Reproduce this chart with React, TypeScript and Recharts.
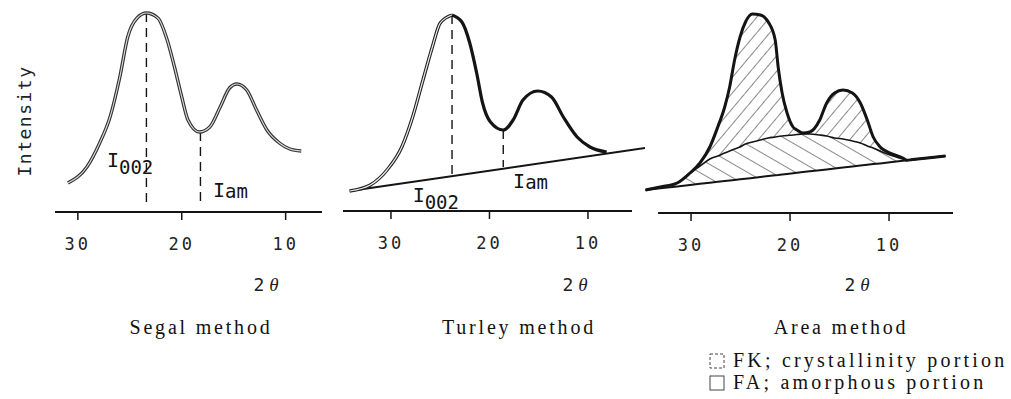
import React from 'react';
import { ComposedChart, Line, Area, XAxis, YAxis, ReferenceLine, ReferenceDot } from 'recharts';

// ---------- shared ----------
const tickValues = [30, 20, 10];
const titles = ['Segal method', 'Turley method', 'Area method'];
const legendItems = ['FK; crystallinity portion', 'FA; amorphous portion'];

// ---------- Segal panel ----------
const segalTheta = [30.96, 29.13, 27.9, 26.9, 25.96, 25.2, 24.3, 23.4, 22.3, 21.4, 20.7, 20.0, 19.4, 18.3, 17.3, 16.3, 15.4, 14.7, 13.75, 12.8, 11.8, 10.6, 9.6, 8.5];
const segalIntensity = [29, 45, 69, 95, 135, 175, 194, 199, 194, 172, 145, 115, 92, 80, 85, 105, 124, 128, 122, 102, 82, 69, 63, 61];
const segalDomain = [6.5, 32.2];
const segalAxisRange = [32.2, 6.5];
const segalMarkTheta = [23.4, 18.2];
const segalMarkTop = [199, 80];
const segalMarkBottom = [8, 8];

// ---------- Turley panel ----------
const turleyTheta = [34.2, 32.1, 30.4, 28.9, 27.8, 26.75, 25.8, 25.0, 23.8, 22.8, 22.0, 21.3, 20.7, 19.9, 18.6, 17.6, 16.6, 15.1, 13.7, 12.5, 11.1, 9.8, 8.1];
const turleyIntensity = [20, 26, 41, 64, 94, 131, 164, 188, 196, 189, 168, 138, 108, 89, 81, 91, 111, 120, 114, 94, 74, 64, 59];
const turleyBaseTheta = [34.2, 4.2];
const turleyBaseIntensity = [20, 63];
const turleyDomain = [4.21, 34.87];
const turleyAxisRange = [34.87, 5.53];
const turleyMarkTheta = [23.8, 18.6];
const turleyMarkTop = [196, 81];
const turleyMarkBottom = [34, 44];

// ---------- Area panel ----------
const areaTheta = [34.6, 33.1, 31.4, 30.1, 29.1, 28.1, 27.3, 26.6, 26.1, 25.6, 25.05, 24.5, 23.8, 23.0, 22.2, 21.5, 21.2, 20.8, 20.3, 19.7, 19.3, 18.7, 18.0, 17.0, 16.3, 15.5, 14.65, 13.7, 12.9, 12.2, 11.6, 10.9, 9.9, 8.6, 8.2, 7.6, 5.9, 4.3];
const areaTotal = [23, 26, 30, 40, 50, 66, 86, 106, 126, 153, 176, 191, 199, 198, 191, 173, 146, 120, 100, 86, 83, 80, 81, 93, 110, 120, 123, 120, 110, 93, 76, 66, 60, 55, 52.7, 53.4, 55.3, 57];
const areaAmorph = [23, 26, 30, 40, 47, 54, 57, 60, 62, 64, 66, 69, 71, 73, 75, 76, 76.5, 77, 77.5, 78, 78.5, 79, 79, 78, 77, 75, 74, 72, 70, 67, 65, 62, 58, 54, 52.7, 53.4, 55.3, 57];
const areaBase = [23, 24.7, 26.6, 28.0, 29.2, 30.3, 31.2, 32.0, 32.5, 33.1, 33.7, 34.3, 35.1, 36.0, 36.9, 37.7, 38.0, 38.5, 39.1, 39.8, 40.2, 40.9, 41.7, 42.8, 43.6, 44.5, 45.4, 46.5, 47.4, 48.2, 48.9, 49.6, 50.8, 52.2, 52.7, 53.4, 55.3, 57];
const areaDomain = [3.54, 34.65];
const areaAxisRange = [33.33, 3.54];

// ---------- data tables ----------
const segalData = segalTheta.map((t, i) => ({ t, v: segalIntensity[i] }));
const turleyData = turleyTheta.map((t, i) => ({ t, v: turleyIntensity[i] }));
const turleyBase = turleyBaseTheta.map((t, i) => ({ t, v: turleyBaseIntensity[i] }));
const areaData = areaTheta.map((t, i) => ({
  t,
  total: areaTotal[i],
  amorph: areaAmorph[i],
  base: areaBase[i],
  kRange: [areaAmorph[i], areaTotal[i]],
  aRange: [areaBase[i], areaAmorph[i]],
}));

const MONO = "'DejaVu Sans Mono', monospace";
const SERIF = "'Liberation Serif', 'DejaVu Serif', serif";
const INK = '#141414';

const renderTick = (props: any) => (
  <text x={props.x} y={props.y + 30} textAnchor="middle" style={{ fontFamily: MONO, fontSize: 17, letterSpacing: 3 }} fill="#222">
    {props.payload.value}
  </text>
);

const makeLabel = (main: string, sub: string, subDy: number) => (p: any) => (
  <text x={p.cx} y={p.cy} style={{ fontFamily: MONO, fontSize: 20 }} fill={INK}>
    <tspan>{main}</tspan>
    <tspan dy={subDy} style={{ fontSize: 19 }}>{sub}</tspan>
  </text>
);

function commonAxes(domain: number[], ymax: number) {
  return [
    <XAxis
      key="x"
      xAxisId={0}
      dataKey="t"
      type="number"
      domain={domain}
      reversed
      allowDataOverflow
      ticks={tickValues}
      axisLine={false}
      tickLine={{ stroke: INK, strokeWidth: 1.5 }}
      tickSize={8}
      tickMargin={0}
      height={40}
      tick={renderTick}
      interval={0}
    />,
    <YAxis key="y" yAxisId={0} type="number" domain={[0, ymax]} allowDataOverflow hide />,
  ];
}

const markLines = (theta: number[], top: number[], bottom: number[]) =>
  theta.map((t, i) => (
    <ReferenceLine
      key={'m' + i}
      segment={[{ x: t, y: top[i] }, { x: t, y: bottom[i] }]}
      stroke={INK}
      strokeWidth={1.4}
      strokeDasharray="9 6"
      ifOverflow="visible"
    />
  ));

const axisLine = (range: number[]) => (
  <ReferenceLine
    segment={[{ x: range[0], y: 0 }, { x: range[1], y: 0 }]}
    stroke={INK}
    strokeWidth={2}
    ifOverflow="visible"
  />
);

export default function App() {
  return (
    <div style={{ position: 'absolute', left: 0, top: 0, width: 1011, height: 399, background: '#fff', overflow: 'hidden' }}>
      {/* Segal */}
      <div style={{ position: 'absolute', left: 0, top: 0 }}>
        <ComposedChart width={330} height={399} margin={{ top: 0, right: 8, left: 55, bottom: 147 }}>
          {commonAxes(segalDomain, 212)}
          {axisLine(segalAxisRange)}
          {markLines(segalMarkTheta, segalMarkTop, segalMarkBottom)}
          <Line data={segalData} dataKey="v" type="monotone" stroke="#333" strokeWidth={3.4} dot={false} isAnimationActive={false} />
          <Line data={segalData} dataKey="v" type="monotone" stroke="#dcdcdc" strokeWidth={1.1} dot={false} isAnimationActive={false} />
          <ReferenceDot x={27.2} y={45} r={0} ifOverflow="visible" shape={makeLabel('I', '002', 7)} />
          <ReferenceDot x={17.0} y={15} r={0} ifOverflow="visible" shape={makeLabel('I', 'am', 1)} />
        </ComposedChart>
      </div>

      {/* Turley */}
      <div style={{ position: 'absolute', left: 330, top: 0 }}>
        <ComposedChart width={330} height={399} margin={{ top: 0, right: 15, left: 13, bottom: 148 }}>
          {commonAxes(turleyDomain, 211)}
          {axisLine(turleyAxisRange)}
          {markLines(turleyMarkTheta, turleyMarkTop, turleyMarkBottom)}
          <Line data={turleyBase} dataKey="v" type="linear" stroke={INK} strokeWidth={2} dot={false} isAnimationActive={false} />
          <Line data={turleyData.filter((d) => d.t >= 23.8)} dataKey="v" type="monotone" stroke="#222" strokeWidth={3.4} dot={false} isAnimationActive={false} />
          <Line data={turleyData.filter((d) => d.t >= 23.8)} dataKey="v" type="monotone" stroke="#ececec" strokeWidth={1.2} dot={false} isAnimationActive={false} />
          <Line data={turleyData.filter((d) => d.t <= 23.8)} dataKey="v" type="monotone" stroke={INK} strokeWidth={3.2} dot={false} isAnimationActive={false} />
          <ReferenceDot x={27.8} y={9} r={0} ifOverflow="visible" shape={makeLabel('I', '002', 7)} />
          <ReferenceDot x={17.6} y={23} r={0} ifOverflow="visible" shape={makeLabel('I', 'am', 1)} />
        </ComposedChart>
      </div>

      {/* Area */}
      <div style={{ position: 'absolute', left: 640, top: 0 }}>
        <ComposedChart width={371} height={399} data={areaData} margin={{ top: 0, right: 58, left: 5, bottom: 146 }}>
          <defs>
            <pattern id="hatchK" patternUnits="userSpaceOnUse" width="10" height="10" patternTransform="rotate(40)">
              <line x1="0" y1="0" x2="0" y2="10" stroke={INK} strokeWidth="1" />
            </pattern>
            <pattern id="hatchA" patternUnits="userSpaceOnUse" width="12" height="12" patternTransform="rotate(-60)">
              <line x1="0" y1="0" x2="0" y2="12" stroke={INK} strokeWidth="1" />
            </pattern>
          </defs>
          {commonAxes(areaDomain, 213)}
          {axisLine(areaAxisRange)}
          <Area dataKey="aRange" type="monotone" stroke="none" fill="url(#hatchA)" fillOpacity={1} isAnimationActive={false} />
          <Area dataKey="kRange" type="monotone" stroke="none" fill="url(#hatchK)" fillOpacity={1} isAnimationActive={false} />
          <Line dataKey="base" type="linear" stroke={INK} strokeWidth={2} dot={false} isAnimationActive={false} />
          <Line dataKey="amorph" type="monotone" stroke={INK} strokeWidth={1.6} dot={false} isAnimationActive={false} />
          <Line dataKey="total" type="monotone" stroke={INK} strokeWidth={3} dot={false} isAnimationActive={false} />
        </ComposedChart>
      </div>

      {/* text overlay */}
      <svg width={1011} height={399} style={{ position: 'absolute', left: 0, top: 0, pointerEvents: 'none' }}>
        <text transform="translate(31,121) rotate(-90)" textAnchor="middle" style={{ fontFamily: MONO, fontSize: 18, letterSpacing: 1.5 }} fill="#222">
          Intensity
        </text>
        {[266, 575, 857].map((x, i) => (
          <text key={'th' + i} x={x} y={291} textAnchor="middle" style={{ fontFamily: MONO, fontSize: 18 }} fill="#222">
            <tspan>2</tspan>
            <tspan dx={5} style={{ fontFamily: SERIF, fontStyle: 'italic', fontSize: 19 }}>θ</tspan>
          </text>
        ))}
        {[201, 519, 841].map((x, i) => (
          <text key={'ti' + i} x={x} y={334} textAnchor="middle" style={{ fontFamily: SERIF, fontSize: 20, letterSpacing: 2.8 }} fill="#111">
            {titles[i]}
          </text>
        ))}
        {legendItems.map((s, i) => (
          <g key={'lg' + i}>
            <rect x={710} y={354 + i * 22} width={14} height={14} fill="none" stroke="#444" strokeWidth={1} strokeDasharray={i === 0 ? '3 2' : undefined} />
            <text x={733} y={367 + i * 22} style={{ fontFamily: SERIF, fontSize: 20, letterSpacing: 3.2 }} fill="#111">
              {s}
            </text>
          </g>
        ))}
      </svg>
    </div>
  );
}
